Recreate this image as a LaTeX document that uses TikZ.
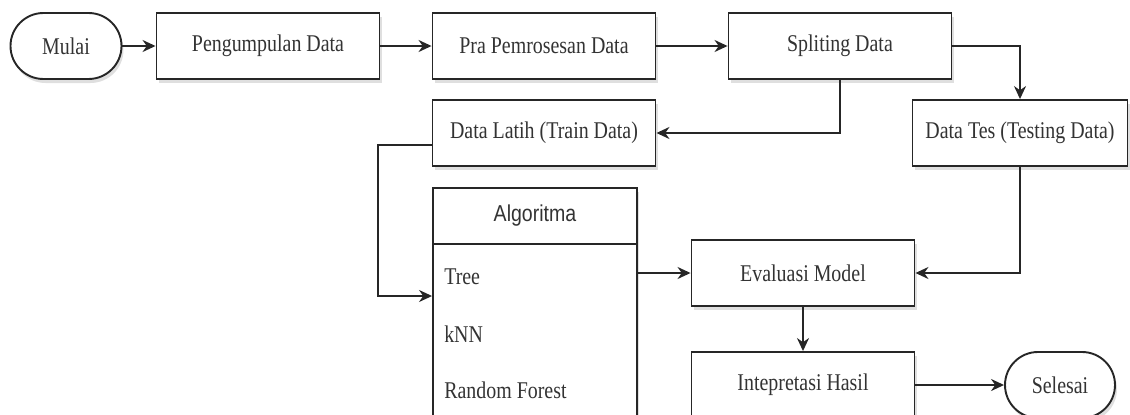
\documentclass[tikz,border=0pt]{standalone}
\usepackage{fontspec}
\setmainfont[FakeStretch=0.83]{Liberation Serif}
\setsansfont[FakeStretch=0.85]{Liberation Sans}
\usetikzlibrary{arrows.meta,shadows}
\begin{document}
\begin{tikzpicture}[x=1pt, y=-1pt, >={Stealth[length=13pt,width=12pt]},
    line width=1.9pt, draw=black!85,
    box/.style={draw=black!85, fill=white, minimum width=223pt, minimum height=66pt,
        font=\fontsize{24}{28}\selectfont, text=black!80,
        drop shadow={shadow xshift=2pt, shadow yshift=-4pt, opacity=0.25}},
    ends/.style={box, rounded corners=33pt, minimum width=111pt},
    item/.style={anchor=west, font=\fontsize{24}{28}\selectfont, text=black!80}]
    \useasboundingbox (0,0) rectangle (1130,415);
    % Top row
    \node[ends] (mulai) at (66,46) {Mulai};
    \node[box] (kumpul) at (268,46) {Pengumpulan Data};
    \node[box] (pra) at (544,46) {Pra Pemrosesan Data};
    \node[box] (split) at (840,46) {Spliting Data};
    % Train and test data
    \node[box] (latih) at (544,133) {Data Latih (Train Data)};
    \node[box, minimum width=215pt] (tes) at (1020,133) {Data Tes (Testing Data)};
    % Algorithm list
    \node[box, minimum width=204pt, minimum height=242pt] (algo) at (535,309) {};
    \draw[black!85] ([yshift=-57pt]algo.north west) -- ([yshift=-57pt]algo.north east);
    \node[font=\sffamily\fontsize{23}{27}\selectfont, text=black!80] (algohead) at ([yshift=-28.5pt]algo.north) {Algoritma};
    \node[item] (tree) at (440,277) {Tree};
    \node[item] (knn) at (440,334) {kNN};
    \node[item] (rf) at (440,390) {Random Forest};
    % Evaluation and result
    \node[box] (evaluasi) at (803,273) {Evaluasi Model};
    \node[box] (interpretasi) at (803,385) {Intepretasi Hasil};
    \node[ends, minimum width=110pt] (selesai) at (1060,385) {Selesai};
    % Connectors
    \draw[->] (mulai) -- (kumpul);
    \draw[->] (kumpul) -- (pra);
    \draw[->] (pra) -- (split);
    \draw[->] (split.east) -| (tes.north);
    \draw[->] (split.south) |- (latih.east);
    \draw[->] ([yshift=-12pt]latih.west) -- ++(-54,0) |- ([yshift=13pt]algo.west);
    \draw[->] (algo.east |- evaluasi.west) -- (evaluasi.west);
    \draw[->] (tes.south) |- (evaluasi.east);
    \draw[->] (evaluasi) -- (interpretasi);
    \draw[->] (interpretasi) -- (selesai);
\end{tikzpicture}
\end{document}
